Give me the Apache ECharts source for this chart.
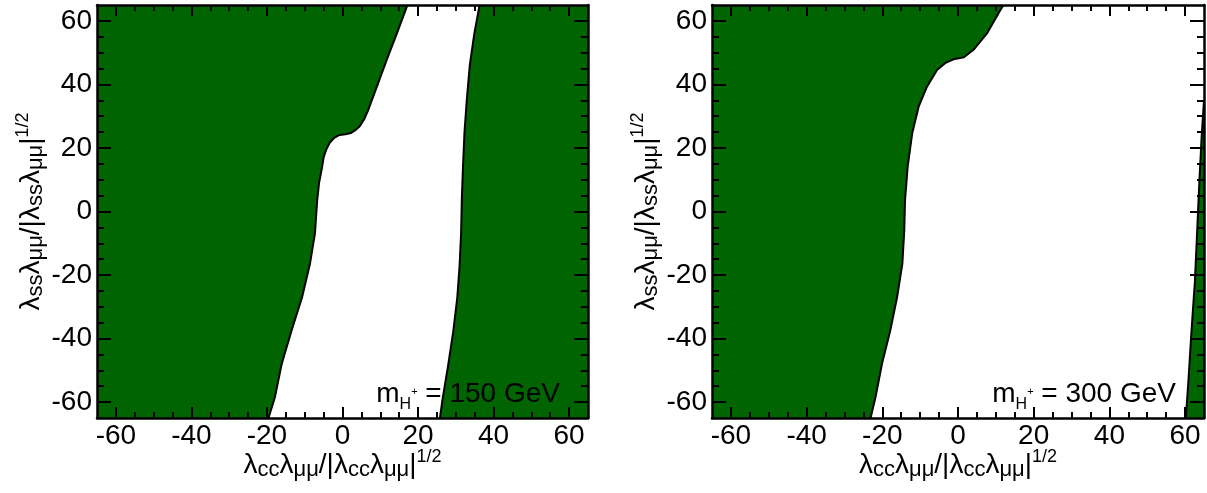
<!DOCTYPE html>
<html><head><meta charset="utf-8">
<script src="https://cdn.jsdelivr.net/npm/echarts@6/dist/echarts.min.js"></script>
<style>html,body{margin:0;padding:0;background:#fff}#c{width:1207px;height:493px}</style>
</head><body><div id="c"></div>
<script>
// ---- data ----
const axisMin = -65, axisMax = 65;
const majorTicks = [-60, -40, -20, 0, 20, 40, 60];
const minorTicks = [-55, -50, -45, -35, -30, -25, -15, -10, -5, 5, 10, 15, 25, 30, 35, 45, 50, 55];
const panelMasses = ['150', '300'];
// exclusion-region boundaries, [x, y] from bottom to top
const m150LeftEdge = [[-19.6,-65],[-17.9,-58.5],[-16.1,-48],[-13.5,-37.5],[-10.7,-27],[-8.6,-16.4],[-7.3,-7],[-6.7,3.5],[-6.2,9],[-5.4,14],[-5.0,17],[-4.3,19.5],[-3.4,21.6],[-2.2,23.2],[-0.8,24.1],[0.8,24.3],[2.2,24.7],[3.4,25.6],[4.6,26.9],[5.8,29.2],[6.8,31.9],[9.1,39.3],[11.7,47.7],[14.4,56.1],[17.2,65]];
const m150RightEdge = [[25.8,-65],[26.5,-59],[27.9,-49],[29.3,-38],[30.4,-27],[31.0,-17],[31.4,-7],[31.6,4],[31.9,14],[32.3,25],[32.9,35],[33.7,46],[34.9,56],[36.3,65]];
const m300LeftEdge = [[-23.1,-65],[-21.8,-58.5],[-20.1,-48],[-17.9,-37.5],[-16.1,-27],[-14.7,-16.4],[-14.2,-6],[-14.0,3.5],[-13.3,14.1],[-12.1,24.6],[-10.4,33.0],[-8.2,39.3],[-5.5,44.6],[-3.4,46.7],[-1.2,47.9],[1.5,48.5],[4.1,50.9],[7.7,56.1],[10.7,62.4],[12.0,65]];
const m300RightEdge = [[60.2,-65],[60.9,-53],[61.7,-37.5],[62.6,-22],[63.2,-6],[63.8,10],[64.4,24],[65,35]];

// ---- styling ----
const FONT = "'Liberation Sans', Arial, Helvetica, sans-serif";
const GREEN = '#006400';
const titleRich = {
  l: {fontSize: 28, lineHeight: 28, padding: [0,0,2,0], verticalAlign: 'bottom', fontFamily: FONT, color: '#000'},
  s: {fontSize: 22, lineHeight: 22, padding: [0,0,0,0], verticalAlign: 'bottom', fontFamily: FONT, color: '#000'},
  p: {fontSize: 18, lineHeight: 18, padding: [0,0,15,0], verticalAlign: 'bottom', fontFamily: FONT, color: '#000'}
};
const xTitle = '{l|λ}{s|cc}{l|λ}{s|μμ}{l|/|λ}{s|cc}{l|λ}{s|μμ}{l||}{p|1/2}';
const yTitle = '{l|λ}{s|ss}{l|λ}{s|μμ}{l|/|λ}{s|ss}{l|λ}{s|μμ}{l||}{p|1/2}';
const massRich = {
  m: {fontSize: 28, lineHeight: 28, padding: [0,0,5,0], verticalAlign: 'bottom', fontFamily: FONT, color: '#000'},
  h: {fontSize: 16, lineHeight: 16, padding: [0,0,0,0], verticalAlign: 'bottom', fontFamily: FONT, color: '#000'},
  q: {fontSize: 11, lineHeight: 11, padding: [0,0,16,0], verticalAlign: 'bottom', fontFamily: FONT, color: '#000'}
};

const grids = [
  {left: 97, top: 5, width: 491, height: 413, outerBoundsMode: 'none', containLabel: false},
  {left: 712, top: 5, width: 492, height: 413, outerBoundsMode: 'none', containLabel: false}
];

function tickAxis(dim, g, position, major, extra) {
  const isX = dim === 'x';
  const base = {
    gridIndex: g, type: 'value', min: axisMin, max: axisMax, position: position, z: 10,
    splitLine: {show: false}, axisLabel: {show: false},
    axisLine: {show: major, onZero: false, lineStyle: {color: '#000', width: 2.5}},
    axisTick: {show: true, inside: true, length: major ? (isX ? 11 : 14) : (isX ? 6 : 7),
      customValues: major ? majorTicks : minorTicks, lineStyle: {color: '#000', width: 2}}
  };
  return Object.assign(base, extra || {});
}

const xAxes = [], yAxes = [];
for (let g = 0; g < 2; g++) {
  xAxes.push(tickAxis('x', g, 'bottom', true, {
    axisLabel: {show: true, customValues: majorTicks, margin: 4, fontSize: 28, color: '#000', fontFamily: FONT},
    name: xTitle, nameLocation: 'middle', nameGap: 35, nameMoveOverlap: false,
    nameTextStyle: {fontFamily: FONT, fontSize: 28, color: '#000', rich: titleRich}
  }));
  xAxes.push(tickAxis('x', g, 'bottom', false));
  xAxes.push(tickAxis('x', g, 'top', true));
  xAxes.push(tickAxis('x', g, 'top', false));
  yAxes.push(tickAxis('y', g, 'left', true, {
    axisLabel: {show: true, customValues: majorTicks, margin: 5, fontSize: 28, color: '#000', fontFamily: FONT},
    name: yTitle, nameLocation: 'middle', nameRotate: 90, nameGap: 50, nameMoveOverlap: false,
    nameTextStyle: {fontFamily: FONT, fontSize: 28, color: '#000', rich: titleRich}
  }));
  yAxes.push(tickAxis('y', g, 'left', false));
  yAxes.push(tickAxis('y', g, 'right', true));
  yAxes.push(tickAxis('y', g, 'right', false));
}

function regionSeries(g, edge, side) {
  return {
    type: 'custom', xAxisIndex: 4 * g, yAxisIndex: 4 * g, clip: true, z: 2,
    data: edge,
    renderItem: function (params, api) {
      if (params.dataIndex !== 0) return;
      const pts = edge.map(p => api.coord(p));
      const cx = side === 'left' ? axisMin - 10 : axisMax + 10;
      const first = edge[0], last = edge[edge.length - 1];
      const poly = pts.concat([api.coord([cx, last[1]]), api.coord([cx, first[1]])]);
      return {type: 'group', children: [
        {type: 'polygon', shape: {points: poly}, style: {fill: GREEN, stroke: null}},
        {type: 'polyline', shape: {points: pts}, style: {stroke: '#000', lineWidth: 2, fill: null}}
      ]};
    }
  };
}

const massLabelPos = [[560, 413], [1176, 413]];
const chart = echarts.init(document.getElementById('c'), null, {renderer: 'canvas'});
chart.setOption({
  animation: false,
  backgroundColor: '#fff',
  grid: grids,
  xAxis: xAxes,
  yAxis: yAxes,
  series: [
    regionSeries(0, m150LeftEdge, 'left'),
    regionSeries(0, m150RightEdge, 'right'),
    regionSeries(1, m300LeftEdge, 'left'),
    regionSeries(1, m300RightEdge, 'right')
  ],
  graphic: panelMasses.map((m, i) => ({
    type: 'text', x: massLabelPos[i][0], y: massLabelPos[i][1], z: 100,
    style: {text: '{m|m}{h|H}{q|+}{m| = ' + m + ' GeV}', rich: massRich, fill: '#000',
      align: 'right', verticalAlign: 'bottom', textAlign: 'right', textVerticalAlign: 'bottom'}
  }))
});
</script></body></html>
